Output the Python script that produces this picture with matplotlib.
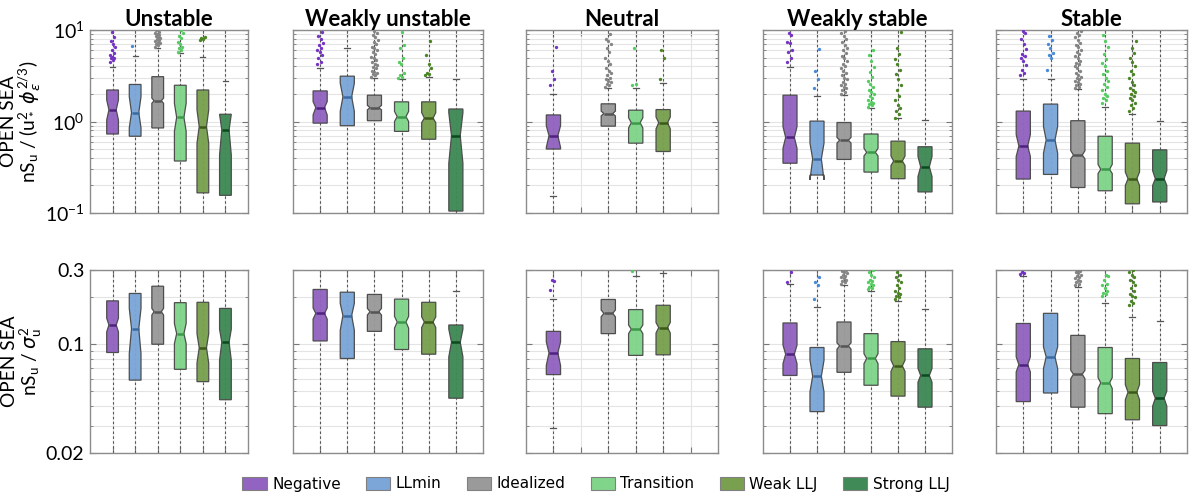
import numpy as np
import matplotlib
matplotlib.use("Agg")
import matplotlib.pyplot as plt
from matplotlib.patches import Patch
from matplotlib.ticker import FixedLocator, LogLocator, NullFormatter, FixedFormatter

nan = np.nan

# ---------------- data ----------------
categories = ["Negative", "LLmin", "Idealized", "Transition", "Weak LLJ", "Strong LLJ"]
regimes = ["Unstable", "Weakly unstable", "Neutral", "Weakly stable", "Stable"]

# Top row: nS_u / (u*^2 phi_eps^(2/3)); one list of 6 per regime
top_q1 = [[0.73, 0.69, 0.85, 0.37, 0.166, 0.156],
          [0.96, 0.90, 1.02, 0.78, 0.64, 0.105],
          [0.50, nan, 0.89, 0.58, 0.47, nan],
          [0.35, 0.26, 0.385, 0.28, 0.237, 0.17],
          [0.235, 0.264, 0.19, 0.175, 0.126, 0.132]]
top_med = [[1.34, 1.25, 1.69, 1.11, 0.88, 0.81],
           [1.42, 1.86, 1.42, 1.13, 1.09, 0.70],
           [0.70, nan, 1.22, 0.97, 0.97, nan],
           [0.67, 0.39, 0.625, 0.46, 0.37, 0.32],
           [0.54, 0.63, 0.43, 0.30, 0.237, 0.237]]
top_q3 = [[2.21, 2.54, 3.09, 2.49, 2.21, 1.20],
          [2.16, 3.13, 1.94, 1.64, 1.64, 1.37],
          [1.18, nan, 1.56, 1.33, 1.35, nan],
          [1.94, 1.01, 0.975, 0.73, 0.61, 0.53],
          [1.30, 1.55, 1.02, 0.69, 0.58, 0.49]]
top_cilo = [[1.04, 0.85, 1.58, 0.78, 0.58, 0.43],
            [1.18, 1.29, 1.34, 1.00, 0.97, 0.35],
            [0.52, nan, 1.15, 0.85, 0.83, nan],
            [0.51, 0.23, 0.58, 0.42, 0.33, 0.25],
            [0.415, 0.45, 0.39, 0.27, 0.20, 0.20]]
top_cihi = [[1.72, 1.87, 1.80, 1.58, 1.34, 1.20],
            [1.65, 2.62, 1.50, 1.29, 1.25, 1.25],
            [0.90, nan, 1.30, 1.10, 1.12, nan],
            [0.88, 0.58, 0.67, 0.51, 0.42, 0.415],
            [0.72, 0.88, 0.48, 0.34, 0.28, 0.29]]
top_whishi = [[3.98, 5.25, 6.4, 5.66, 5.1, 2.78],
              [3.82, 6.3, 3.0, 2.92, 3.1, 2.95],
              [2.02, nan, 2.35, 2.33, 2.62, nan],
              [3.98, 1.91, 1.95, 1.40, 1.08, 1.04],
              [2.9, 2.9, 2.25, 1.43, 1.2, 1.01]]
top_whislo = [[0.05, 0.05, 0.05, 0.05, 0.05, 0.05],
              [0.05, 0.05, 0.05, 0.05, 0.05, 0.05],
              [0.153, nan, 0.05, 0.05, 0.05, nan],
              [0.05, 0.05, 0.05, 0.05, 0.05, 0.05],
              [0.05, 0.05, 0.05, 0.05, 0.05, 0.05]]
top_fliers = [
    [[4.5, 4.7, 4.9, 5.0, 5.1, 5.3, 5.6, 6.1, 6.5, 7.0, 7.6, 8.3, 9.4],
     [6.7],
     [6.6, 6.8, 7.0, 7.2, 7.4, 7.6, 7.8, 8.0, 8.2, 8.4, 8.6, 8.8, 9.0, 9.3, 9.6, 9.9],
     [5.8, 6.0, 6.3, 6.6, 7.0, 7.4, 8.1, 8.6, 9.3, 9.9],
     [7.7, 7.9, 8.1, 8.3],
     []],
    [[4.3, 4.5, 4.9, 5.3, 5.7, 6.0, 6.4, 6.9, 7.3, 8.0, 8.6, 9.4],
     [],
     [3.1, 3.2, 3.3, 3.4, 3.5, 3.6, 3.8, 3.9, 4.1, 4.3, 4.5, 4.7, 4.9, 5.1, 5.4, 5.7,
      6.0, 6.3, 6.6, 7.0, 7.4, 7.8, 8.3, 8.8, 9.3, 9.8],
     [3.0, 3.1, 3.2, 3.4, 4.2, 4.5, 5.0, 6.3, 6.8, 9.5],
     [3.2, 3.3, 3.4, 3.8, 4.3, 5.3, 7.6],
     []],
    [[2.5, 2.9, 3.6, 6.6],
     [],
     [2.4, 2.5, 2.6, 2.7, 2.8, 2.9, 3.0, 3.2, 3.4, 3.6, 3.8, 4.2, 4.6, 5.0, 5.8, 6.3,
      7.0, 7.6, 8.0, 9.0],
     [2.5, 2.6, 6.3],
     [2.9, 5.0, 6.1],
     []],
    [[4.5, 5.0, 5.8, 6.0, 7.2, 7.4, 8.8, 9.2],
     [2.3, 2.9, 3.6, 6.2],
     [2.0, 2.1, 2.2, 2.3, 2.4, 2.5, 2.6, 2.7, 2.9, 3.0, 3.2, 3.4, 3.6, 3.8, 4.0, 4.3,
      4.6, 4.9, 5.2, 5.6, 6.0, 6.4, 6.9, 7.4, 8.0, 8.6, 9.2, 9.8],
     [1.45, 1.5, 1.55, 1.6, 1.65, 1.7, 1.8, 1.9, 2.0, 2.1, 2.2, 2.4, 2.6, 2.8, 3.1,
      3.5, 3.9, 4.6, 5.3, 6.0],
     [1.1, 1.2, 1.3, 1.4, 1.5, 1.7, 1.9, 2.2, 2.5, 2.9, 3.3, 3.7, 4.2, 4.8, 5.4, 6.3, 9.5],
     []],
    [[3.2, 3.4, 3.7, 4.1, 4.6, 4.9, 5.2, 5.5, 6.2, 7.0, 8.0, 9.3, 9.8],
     [3.7, 5.0, 5.3, 5.6, 6.4, 7.0, 7.8, 8.6],
     [2.3, 2.4, 2.5, 2.6, 2.7, 2.8, 2.9, 3.0, 3.1, 3.2, 3.4, 3.6, 3.8, 4.0, 4.2, 4.4,
      4.6, 4.9, 5.2, 5.5, 5.8, 6.1, 6.5, 6.9, 7.3, 7.8, 8.3, 8.8, 9.3, 9.8],
     [1.6, 1.7, 1.8, 1.9, 2.0, 2.2, 2.4, 2.6, 2.8, 3.0, 3.3, 3.6, 4.0, 4.4, 4.8, 5.5,
      6.5, 7.5, 8.8],
     [1.3, 1.4, 1.5, 1.6, 1.7, 1.8, 1.9, 2.0, 2.1, 2.2, 2.3, 2.5, 2.7, 3.0, 3.3, 3.6,
      4.0, 4.5, 5.0, 5.6, 6.4, 7.5],
     []],
]

# Bottom row: nS_u / sigma_u^2
bot_q1 = [[0.0885, 0.0588, 0.100, 0.069, 0.0575, 0.044],
          [0.105, 0.081, 0.121, 0.0925, 0.0863, 0.045],
          [0.0638, nan, 0.117, 0.0848, 0.0855, nan],
          [0.063, 0.0369, 0.066, 0.0545, 0.0464, 0.0394],
          [0.0428, 0.0486, 0.0394, 0.0358, 0.0327, 0.030]]
bot_med = [[0.133, 0.126, 0.162, 0.117, 0.095, 0.103],
           [0.158, 0.153, 0.162, 0.139, 0.139, 0.103],
           [0.088, nan, 0.158, 0.125, 0.128, nan],
           [0.0863, 0.0623, 0.0977, 0.081, 0.0726, 0.063],
           [0.074, 0.083, 0.0642, 0.0565, 0.0492, 0.045]]
bot_q3 = [[0.19, 0.212, 0.236, 0.185, 0.186, 0.17],
          [0.225, 0.216, 0.209, 0.195, 0.186, 0.133],
          [0.121, nan, 0.194, 0.167, 0.178, nan],
          [0.137, 0.0953, 0.139, 0.117, 0.104, 0.0935],
          [0.136, 0.158, 0.114, 0.0953, 0.081, 0.0763]]
bot_cilo = [[0.12, 0.087, 0.154, 0.101, 0.0756, 0.079],
            [0.145, 0.123, 0.154, 0.127, 0.128, 0.083],
            [0.073, nan, 0.150, 0.117, 0.118, nan],
            [0.075, 0.0494, 0.093, 0.075, 0.067, 0.057],
            [0.0664, 0.0698, 0.060, 0.052, 0.044, 0.040]]
bot_cihi = [[0.147, 0.17, 0.170, 0.136, 0.117, 0.125],
            [0.171, 0.183, 0.170, 0.151, 0.150, 0.125],
            [0.1035, nan, 0.166, 0.133, 0.138, nan],
            [0.0987, 0.079, 0.102, 0.087, 0.079, 0.070],
            [0.083, 0.096, 0.068, 0.061, 0.055, 0.050]]
bot_whishi = [[0.4, 0.4, 0.4, 0.4, 0.4, 0.4],
              [0.4, 0.4, 0.4, 0.4, 0.4, 0.219],
              [0.194, nan, 0.4, 0.274, 0.286, nan],
              [0.244, 0.174, 0.24, 0.22, 0.19, 0.168],
              [0.276, 0.4, 0.235, 0.183, 0.15, 0.142]]
bot_whislo = [[0.01, 0.01, 0.01, 0.01, 0.01, 0.01],
              [0.01, 0.01, 0.01, 0.01, 0.01, 0.01],
              [0.0291, nan, 0.01, 0.01, 0.01, nan],
              [0.01, 0.01, 0.01, 0.01, 0.01, 0.01],
              [0.01, 0.01, 0.01, 0.01, 0.01, 0.01]]
bot_fliers = [
    [[], [], [], [], [], []],
    [[], [], [], [], [], []],
    [[0.222, 0.255, 0.259], [], [], [0.296], [], []],
    [[0.25, 0.29],
     [0.196, 0.241, 0.25, 0.27],
     [0.245, 0.25, 0.255, 0.26, 0.265, 0.27, 0.275, 0.28, 0.285, 0.29, 0.295, 0.3],
     [0.225, 0.23, 0.235, 0.24, 0.245, 0.25, 0.255, 0.26, 0.27, 0.28, 0.29, 0.3],
     [0.195, 0.2, 0.205, 0.21, 0.215, 0.22, 0.23, 0.24, 0.25, 0.26, 0.27, 0.28, 0.29],
     []],
    [[0.282, 0.287, 0.29],
     [],
     [0.24, 0.245, 0.25, 0.255, 0.26, 0.265, 0.27, 0.275, 0.28, 0.285, 0.29, 0.295, 0.3],
     [0.205, 0.21, 0.215, 0.22, 0.23, 0.24, 0.245, 0.26, 0.275, 0.28],
     [0.18, 0.185, 0.19, 0.2, 0.205, 0.21, 0.22, 0.23, 0.24, 0.25, 0.26, 0.27, 0.28,
      0.29, 0.3],
     []],
]

# ---------------- style ----------------
face_colors = ["#9263c0", "#7ba6d7", "#9a9a9a", "#80d58b", "#79a04f", "#3f8a56"]
median_colors = ["#4f2280", "#3a6aa3", "#555555", "#3a9a48", "#3b5a18", "#0b4a1e"]
flier_colors = ["#7533c4", "#468ad8", "#858585", "#55cb62", "#4b8423", "#2f7040"]

plt.rcParams["font.family"] = ["Lato", "DejaVu Sans"]
plt.rcParams["mathtext.fontset"] = "custom"
plt.rcParams["mathtext.rm"] = "Lato"
plt.rcParams["mathtext.it"] = "DejaVu Sans:italic"
plt.rcParams["mathtext.default"] = "regular"

W, H = 1192, 499
fig = plt.figure(figsize=(W / 100, H / 100), dpi=100)

col_px = [(90, 248), (293, 483), (526, 718), (763, 952), (996, 1187)]
row_px = [(30, 213), (270, 453)]
ylims = [(0.1, 10), (0.02, 0.3)]
positions = np.arange(1, 7)
BOXW = 0.52
NOTCHW = 0.62


def draw_box(ax, x, q1, med, q3, lo, hi, face, mcol):
    hw = BOXW / 2
    nh = hw * NOTCHW
    xs = [x - hw, x + hw, x + hw, x + nh, x + hw, x + hw, x - hw, x - hw, x - nh, x - hw, x - hw]
    ys = [q1, q1, lo, med, hi, q3, q3, hi, med, lo, q1]
    ax.fill(xs, ys, facecolor=face, edgecolor="#4a4a4a", lw=0.9, zorder=3, alpha=0.97)
    ax.plot([x - nh, x + nh], [med, med], color=mcol, lw=1.8, zorder=4, solid_capstyle="butt")


rows = [
    (top_q1, top_med, top_q3, top_cilo, top_cihi, top_whishi, top_whislo, top_fliers),
    (bot_q1, bot_med, bot_q3, bot_cilo, bot_cihi, bot_whishi, bot_whislo, bot_fliers),
]

for r, (Q1, MED, Q3, CLO, CHI, WHI, WLO, FL) in enumerate(rows):
    for c in range(5):
        x0, x1 = col_px[c]
        yt, yb = row_px[r]
        ax = fig.add_axes([x0 / W, 1 - yb / H, (x1 - x0) / W, (yb - yt) / H])
        ax.set_yscale("log")
        ax.set_ylim(*ylims[r])
        ax.set_xlim(0, 7)
        ax.set_xticks(positions)
        ax.set_xticklabels([])
        ax.grid(True, which="major", axis="x", color="#e4e4e4", lw=0.8, zorder=0)
        ax.grid(True, which="both", axis="y", color="#e4e4e4", lw=0.8, zorder=0)
        ax.set_axisbelow(True)
        if r == 1:
            ax.yaxis.set_major_locator(FixedLocator([0.02, 0.1, 0.3]))
            ax.yaxis.set_major_formatter(FixedFormatter(["0.02", "0.1", "0.3"]))
        ax.yaxis.set_minor_locator(LogLocator(base=10, subs=np.arange(2, 10)))
        ax.yaxis.set_minor_formatter(NullFormatter())
        ax.tick_params(which="both", direction="in", top=True, right=True,
                       color="#777777", labelsize=14, pad=4)
        ax.tick_params(which="major", length=4)
        ax.tick_params(which="minor", length=2)
        for sp in ax.spines.values():
            sp.set_color("#8c8c8c")
            sp.set_linewidth(1.0)
        if c > 0:
            ax.set_yticklabels([])
        if r == 0:
            ax.set_title(regimes[c], fontsize=16, fontweight="bold", pad=3)

        for k in range(6):
            if np.isnan(Q1[c][k]):
                continue
            x = positions[k]
            ax.axvline(x, ls=(0, (2.2, 2.2)), color="#555555", lw=0.8, zorder=1)
            draw_box(ax, x, Q1[c][k], MED[c][k], Q3[c][k], CLO[c][k], CHI[c][k],
                     face_colors[k], median_colors[k])
            for wv in (WHI[c][k], WLO[c][k]):
                ax.plot([x - 0.11, x + 0.11], [wv, wv], color="#555555", lw=0.9, zorder=2)
            fl = np.array(FL[c][k], dtype=float)
            if fl.size:
                jit = ((np.arange(fl.size) * 0.618034) % 1 - 0.5) * 0.24
                ax.plot(x + jit, fl, "o", ms=2.4, color=flier_colors[k], mec="none",
                        zorder=5, clip_on=True)

        if c == 0:
            if r == 0:
                lab = ("OPEN SEA\nnS$_\\mathregular{u}$ / (u$_*^{2}$ "
                       "$\\mathit{\\phi}_{\\mathit{\\epsilon}}^{2/3}$)")
            else:
                lab = "OPEN SEA\nnS$_\\mathregular{u}$ / $\\mathit{\\sigma}_\\mathregular{u}^{2}$"
            ax.set_ylabel(lab, fontsize=13.8, linespacing=1.0, labelpad=1)

handles = [Patch(facecolor=face_colors[k], edgecolor="#808080", lw=0.8) for k in range(6)]
fig.legend(handles, categories, loc="center", bbox_to_anchor=(0.5, 1 - 484 / H), ncol=6,
           frameon=False, prop={"family": "DejaVu Sans", "size": 11.0},
           handlelength=1.6, handleheight=0.95, handletextpad=0.35, columnspacing=1.65)

fig.savefig("out.png", dpi=100)
